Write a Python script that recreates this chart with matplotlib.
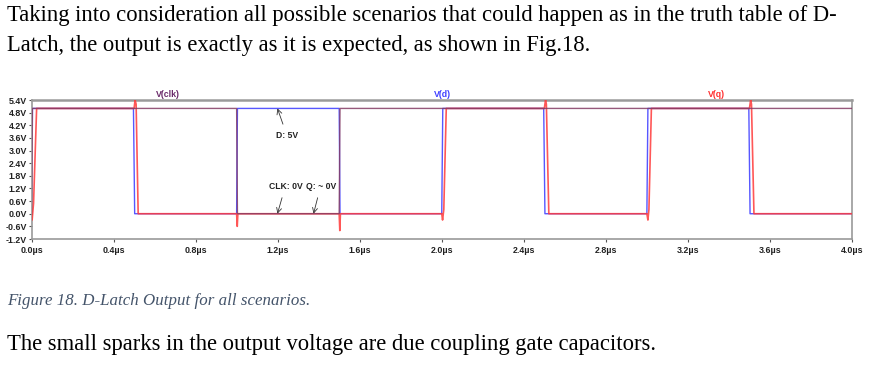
import matplotlib
matplotlib.use("Agg")
import matplotlib.pyplot as plt

# ---------------- data (time in µs, voltage in V) ----------------
clk_t = [0.0, 0.004, 1.0, 1.004, 1.5, 1.504, 4.0]
clk_v = [0.0, 5.0, 5.0, 0.0, 0.0, 5.0, 5.0]

d_t = [0.0, 0.005, 0.497, 0.503, 1.0, 1.004, 1.5, 1.504, 2.0, 2.005,
       2.497, 2.503, 3.0, 3.005, 3.497, 3.503, 4.0]
d_v = [0.0, 5.0, 5.0, 0.0, 0.0, 5.0, 5.0, 0.0, 0.0, 5.0,
       5.0, 0.0, 0.0, 5.0, 5.0, 0.0, 0.0]

q_t = [0.0, 0.003, 0.01, 0.025, 0.5, 0.505, 0.51, 0.52, 1.0, 1.003, 1.006,
       1.5, 1.503, 1.506, 2.0, 2.004, 2.01, 2.022, 2.5, 2.506, 2.51, 2.522,
       3.0, 3.005, 3.01, 3.022, 3.5, 3.506, 3.51, 3.522, 4.0]
q_v = [0.0, -0.3, 0.5, 5.0, 5.0, 5.4, 5.2, 0.0, 0.0, -0.6, 0.0,
       0.0, -0.8, 0.0, 0.0, -0.3, 0.2, 5.0, 5.0, 5.4, 5.2, 0.0,
       0.0, -0.3, 0.2, 5.0, 5.0, 5.4, 5.2, 0.0, 0.0]

y_ticks = [5.4, 4.8, 4.2, 3.6, 3.0, 2.4, 1.8, 1.2, 0.6, 0.0, -0.6, -1.2]
y_labels = ["5.4V", "4.8V", "4.2V", "3.6V", "3.0V", "2.4V", "1.8V", "1.2V",
            "0.6V", "0.0V", "-0.6V", "-1.2V"]
x_ticks = [0.0, 0.4, 0.8, 1.2, 1.6, 2.0, 2.4, 2.8, 3.2, 3.6, 4.0]
x_labels = ["0.0µs", "0.4µs", "0.8µs", "1.2µs", "1.6µs", "2.0µs", "2.4µs",
            "2.8µs", "3.2µs", "3.6µs", "4.0µs"]

para1_l1 = "Taking into consideration all possible scenarios that could happen as in the truth table of D-"
para1_l2 = "Latch, the output is exactly as it is expected, as shown in Fig.18."
caption = "Figure 18. D-Latch Output for all scenarios."
para2 = "The small sparks in the output voltage are due coupling gate capacitors."

# ---------------- figure ----------------
W, H = 870, 368
fig = plt.figure(figsize=(W / 100, H / 100), dpi=100)
fig.patch.set_facecolor("white")

serif = "Liberation Serif"
fig.text(7 / W, 1 - 21 / H, para1_l1, fontfamily=serif, fontsize=16.3,
         va="baseline", ha="left", color="black")
fig.text(7 / W, 1 - 51 / H, para1_l2, fontfamily=serif, fontsize=16.3,
         va="baseline", ha="left", color="black")
fig.text(7 / W, 1 - 305 / H, caption, fontfamily=serif, fontsize=12.2, style="italic",
         va="baseline", ha="left", color="#44546A")
fig.text(7 / W, 1 - 350 / H, para2, fontfamily=serif, fontsize=16.3,
         va="baseline", ha="left", color="black")

left, right, top, bottom = 31.5, 852, 100, 239
ax = fig.add_axes([left / W, 1 - bottom / H, (right - left) / W, (bottom - top) / H])
ax.set_xlim(0, 4.0)
ax.set_ylim(-1.2, 5.4)

col_clk = "#843c64"
col_d = "#3a3aff"
col_q = "#ff3a3a"

ax.plot(d_t, d_v, color=col_d, lw=1.0, alpha=0.85, zorder=2)
ax.plot(q_t, q_v, color=col_q, lw=1.2, alpha=0.85, zorder=3)
ax.plot(clk_t, clk_v, color=col_clk, lw=1.0, alpha=0.85, zorder=4)

for side in ["left", "right", "bottom", "top"]:
    ax.spines[side].set_color("#9a9a9a")
ax.spines["top"].set_linewidth(1.8)
ax.spines["left"].set_linewidth(1.2)
ax.spines["bottom"].set_linewidth(1.2)
ax.spines["right"].set_linewidth(1.2)

ax.set_yticks(y_ticks)
ax.set_yticklabels(y_labels)
ax.set_xticks(x_ticks)
ax.set_xticklabels(x_labels)
ax.tick_params(axis="both", length=2.5, width=0.8, color="#555555", pad=1,
               labelsize=6.4, labelcolor="#222222")
ax.tick_params(axis="x", pad=2.5)
for lab in ax.get_xticklabels() + ax.get_yticklabels():
    lab.set_fontweight("bold")
    lab.set_fontfamily("Liberation Sans")

# trace labels
lab_kw = dict(fontsize=6.3, fontweight="bold", fontfamily="Liberation Sans",
              ha="center", va="bottom", transform=ax.transAxes)
ax.text((168 - left) / (right - left), 1.005, "V(clk)", color="#6a2a6a", **lab_kw)
ax.text((443 - left) / (right - left), 1.005, "V(d)", color="#4040ff", **lab_kw)
ax.text((717 - left) / (right - left), 1.005, "V(q)", color="#ff3030", **lab_kw)

# annotations
ann_kw = dict(fontsize=6.2, fontweight="bold", fontfamily="Liberation Sans",
              ha="center", va="center", color="#222222")
arrow = dict(arrowstyle="->", color="#333333", lw=0.6, shrinkA=3, shrinkB=0,
             mutation_scale=9)
ax.annotate("D: 5V", xy=(1.199, 5.0), xytext=(1.245, 3.72), arrowprops=arrow, **ann_kw)
ax.text(1.24, 1.29, "CLK: 0V", **ann_kw)
ax.text(1.41, 1.29, "Q: ~ 0V", **ann_kw)
ax.annotate("", xy=(1.199, 0.0), xytext=(1.227, 0.95), arrowprops=arrow)
ax.annotate("", xy=(1.375, 0.0), xytext=(1.40, 0.95), arrowprops=arrow)

fig.savefig("out.png", dpi=100, facecolor="white")
